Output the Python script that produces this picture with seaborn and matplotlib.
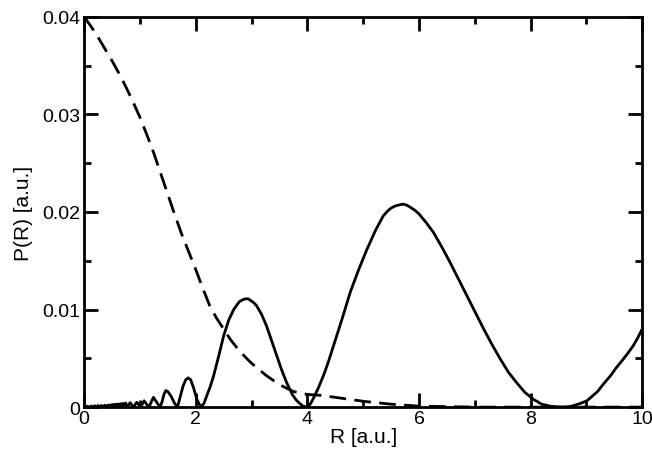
import matplotlib
matplotlib.use("Agg")
import matplotlib.pyplot as plt
import seaborn as sns
import pandas as pd
from matplotlib.ticker import MultipleLocator, FuncFormatter

# solid curve
R_solid = [0.00, 0.05, 0.10, 0.13, 0.16, 0.19, 0.22, 0.25, 0.28, 0.31, 0.34, 0.37,
           0.40, 0.43, 0.46, 0.475, 0.49, 0.507, 0.525, 0.542, 0.56, 0.577, 0.595,
           0.615, 0.635, 0.655, 0.675, 0.697, 0.72, 0.745, 0.77, 0.825, 0.884,
           0.944, 1.016, 1.04, 1.075, 1.12, 1.165, 1.20, 1.243, 1.30, 1.362,
           1.40, 1.43, 1.464, 1.50, 1.56, 1.62, 1.673, 1.72, 1.77, 1.82, 1.864,
           1.91, 1.96, 2.02, 2.09, 2.15, 2.20, 2.26, 2.32, 2.41, 2.50, 2.59, 2.68,
           2.73, 2.78, 2.84, 2.89, 2.94, 2.99, 3.04, 3.09, 3.18, 3.27, 3.36, 3.45,
           3.54, 3.63, 3.73, 3.79, 3.84, 3.92, 3.99,
           4.05, 4.10, 4.20, 4.30, 4.38, 4.47, 4.62, 4.77, 4.92, 5.07, 5.22, 5.36,
           5.44, 5.50, 5.57, 5.63, 5.72, 5.78, 5.84, 5.92, 6.00, 6.13, 6.26, 6.41,
           6.56, 6.71, 6.86, 7.01, 7.16, 7.31, 7.46, 7.60, 7.75, 7.90, 8.05, 8.20,
           8.35, 8.47, 8.59, 8.70, 8.80, 8.90, 9.01, 9.10, 9.20, 9.31, 9.43,
           9.53, 9.63, 9.74, 9.84, 9.92, 10.00]
P_solid = [0.0, 0.0001, 0.0, 0.00012, 0.0, 0.00014, 0.0, 0.00016, 0.0, 0.00018, 0.0, 0.0002,
           0.0, 0.00022, 0.0, 0.00024, 0.0, 0.00026, 0.0, 0.00028, 0.0, 0.0003, 0.0,
           0.00032, 0.0, 0.00035, 0.0, 0.00038, 0.0, 0.00042, 0.0, 0.00045, 0.0,
           0.0005, 0.0, 0.0003, 0.00065, 0.0003, 0.0, 0.0005, 0.0010, 0.0005, 0.0,
           0.0006, 0.0013, 0.0017, 0.0016, 0.0011, 0.0004, 0.0, 0.0010, 0.0021, 0.0028, 0.0030,
           0.0028, 0.0020, 0.0008, 0.0, 0.0004, 0.0012, 0.0021, 0.0032, 0.0052, 0.0073, 0.0089, 0.0100,
           0.0104, 0.0108, 0.0110, 0.0111, 0.0111, 0.0109, 0.0107, 0.0104, 0.0095, 0.0083, 0.0068, 0.0053,
           0.0038, 0.0025, 0.0013, 0.0008, 0.0005, 0.0001, 0.0,
           0.0003, 0.0008, 0.0020, 0.0034, 0.0047, 0.0063, 0.0090, 0.0118, 0.0141, 0.0162, 0.0181, 0.0196,
           0.0201, 0.0204, 0.0206, 0.0207, 0.0208, 0.0207, 0.0205, 0.0202, 0.0198, 0.0189, 0.0179, 0.0164,
           0.0148, 0.0131, 0.0114, 0.0097, 0.0080, 0.0064, 0.0049, 0.0036, 0.0025, 0.0015, 0.0008, 0.0003,
           0.0001, 0.00002, 0.0, 0.00005, 0.0002, 0.0004, 0.00065, 0.0011, 0.0016, 0.0024, 0.0032,
           0.0040, 0.0047, 0.0055, 0.0063, 0.0071, 0.0080]

# dashed curve
R_dash = [0.0, 0.125, 0.25, 0.375, 0.5, 0.625, 0.75, 0.875, 1.0, 1.125, 1.25, 1.375,
          1.5, 1.625, 1.75, 1.875, 2.0, 2.125, 2.25, 2.375, 2.5, 2.625, 2.75, 2.875,
          3.0, 3.125, 3.25, 3.5, 3.75, 4.0, 4.25, 4.5, 5.0, 5.5, 6.0, 7.0, 8.0, 10.0]
P_dash = [0.0400, 0.0390, 0.0379, 0.0367, 0.0355, 0.0342, 0.0328, 0.0313, 0.0297,
          0.0279, 0.0260, 0.0239, 0.0218, 0.0197, 0.0177, 0.0159, 0.0141, 0.0122,
          0.0104, 0.0091, 0.0080, 0.0069, 0.0060, 0.0052, 0.0045, 0.0039, 0.0033,
          0.0023, 0.0016, 0.0013, 0.0012, 0.0010, 0.0006, 0.0003, 0.0001, 0.0, 0.0, 0.0]

solid = pd.DataFrame({"R": R_solid, "P": P_solid})
dash = pd.DataFrame({"R": R_dash, "P": P_dash})

sns.set_theme(style="ticks")
plt.rcParams['font.family'] = ['Liberation Sans', 'DejaVu Sans']

fig, ax = plt.subplots(figsize=(6.52, 4.56), dpi=100)
fig.subplots_adjust(left=0.129, right=0.985, bottom=0.105, top=0.961)

sns.lineplot(data=solid, x="R", y="P", ax=ax, color="black", linewidth=2,
             estimator=None, sort=False)
sns.lineplot(data=dash, x="R", y="P", ax=ax, color="black", linewidth=2,
             estimator=None, sort=False)
ax.lines[1].set_dashes((6, 3))

ax.set_xlim(0, 10)
ax.set_ylim(0, 0.04)
ax.xaxis.set_major_locator(MultipleLocator(2))
ax.xaxis.set_minor_locator(MultipleLocator(1))
ax.yaxis.set_major_locator(MultipleLocator(0.01))
ax.yaxis.set_minor_locator(MultipleLocator(0.005))
ax.yaxis.set_major_formatter(FuncFormatter(lambda v, p: "0" if abs(v) < 1e-9 else f"{v:g}"))

ax.tick_params(which="both", direction="in", top=True, right=True, width=2,
               labelsize=14, colors="black")
ax.tick_params(which="major", length=10)
ax.tick_params(which="minor", length=5)
ax.tick_params(axis="x", pad=2)
ax.tick_params(axis="y", pad=3)
for s in ax.spines.values():
    s.set_linewidth(2)
    s.set_color("black")

ax.set_xlabel("R [a.u.]", fontsize=15, labelpad=0, color="black")
ax.set_ylabel("P(R) [a.u.]", fontsize=15, labelpad=6, color="black")

plt.savefig("out.png", dpi=100)
